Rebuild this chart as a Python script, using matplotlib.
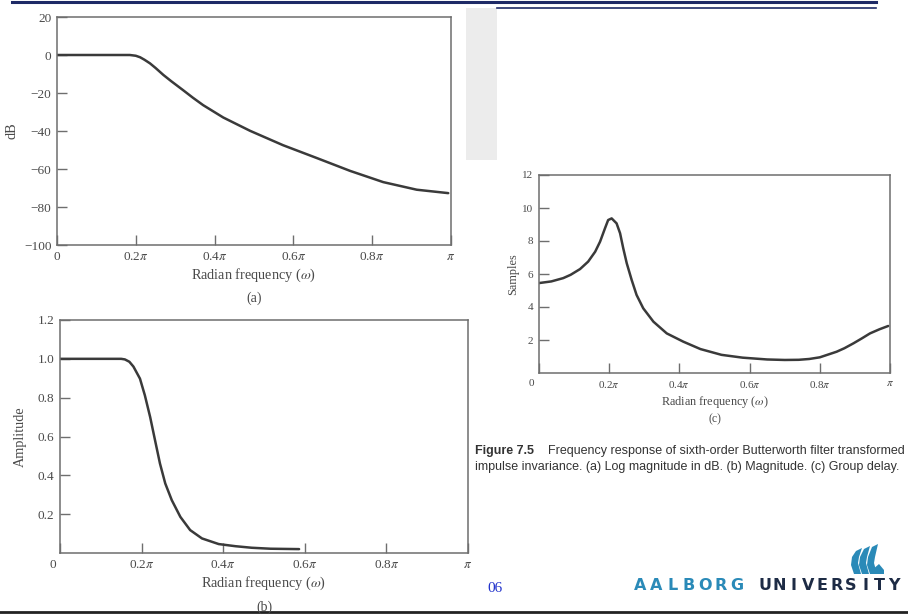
import numpy as np
import matplotlib
matplotlib.use("Agg")
import matplotlib.pyplot as plt
import matplotlib.transforms as mtransforms
from matplotlib.patches import Rectangle, Polygon

plt.rcParams["font.family"] = ["Liberation Serif", "DejaVu Serif"]
plt.rcParams["mathtext.fontset"] = "stix"

# (a) log magnitude in dB, frequency in units of pi
w_a = [0.0, 0.05, 0.10, 0.15, 0.185, 0.20, 0.211, 0.222, 0.236, 0.25, 0.27,
       0.29, 0.32, 0.345, 0.371, 0.422, 0.49, 0.574, 0.659, 0.744, 0.828,
       0.913, 0.993]
db_a = [0.0, 0.0, 0.0, 0.0, 0.0, -0.4, -1.2, -2.5, -4.4, -6.8, -10.5,
        -13.8, -18.5, -22.5, -26.4, -32.9, -39.9, -47.5, -54.2, -61.0, -66.9,
        -70.9, -72.7]

# (b) magnitude
w_b = [0.0, 0.05, 0.118, 0.150, 0.159, 0.170, 0.180, 0.196, 0.208, 0.221,
       0.233, 0.245, 0.258, 0.274, 0.295, 0.319, 0.348, 0.389, 0.43, 0.47,
       0.516, 0.586]
amp_b = [1.0, 1.0, 1.0, 1.0, 0.997, 0.985, 0.96, 0.898, 0.812, 0.700,
         0.580, 0.461, 0.358, 0.272, 0.186, 0.118, 0.075, 0.046, 0.035, 0.027,
         0.022, 0.02]

# (c) group delay in samples
w_c = [0.0, 0.035, 0.069, 0.09, 0.117, 0.140, 0.160, 0.174, 0.188, 0.197,
       0.207, 0.221, 0.231, 0.240, 0.250, 0.264, 0.278, 0.297, 0.326, 0.364,
       0.411, 0.46, 0.52, 0.58, 0.65, 0.70, 0.74, 0.77, 0.80, 0.848, 0.87,
       0.896, 0.92, 0.943, 0.97, 0.995]
gd_c = [5.45, 5.55, 5.75, 5.95, 6.3, 6.75, 7.35, 7.96, 8.77, 9.27,
        9.37, 9.07, 8.47, 7.56, 6.65, 5.64, 4.73, 3.92, 3.11, 2.40,
        1.90, 1.45, 1.1, 0.93, 0.82, 0.79, 0.8, 0.85, 0.95, 1.29, 1.5,
        1.80, 2.1, 2.40, 2.65, 2.85]

x_ticks = [0, 0.2, 0.4, 0.6, 0.8, 1.0]
x_labels = ["0", r"0.2$\pi$", r"0.4$\pi$", r"0.6$\pi$", r"0.8$\pi$", r"$\pi$"]

TXT = "#4a4a4a"
SPINE = "#6e6e6e"
CURVE = "#3a3a3a"

W, H = 908, 615
fig = plt.figure(figsize=(W / 100, H / 100), dpi=100)

# overlay in pixel coords for slide decorations
bg = fig.add_axes([0, 0, 1, 1], zorder=0)
bg.set_xlim(0, W)
bg.set_ylim(H, 0)
bg.axis("off")
bg.add_patch(Rectangle((466, 8), 31, 152, color="#ececec", lw=0))
bg.plot([12, 876], [1.5, 1.5], color="#1e2a66", lw=2.2)
bg.plot([497, 876], [8, 8], color="#1e2a66", lw=1.2)
bg.plot([0, W], [612, 612], color="#222222", lw=2)
bg.text(495, 588, "06", color="#2233cc", fontsize=11, ha="center", va="center")

# logo mark: three wavy stripes
for i, dx in enumerate([0, 8, 16]):
    top = 551 - 2 * i
    pts = [(856 + dx, top), (862 + dx, top - 3), (859 + dx, 557), (858 + dx, 563),
           (861 + dx, 574), (854 + dx, 574), (851 + dx, 565), (852 + dx, 557)]
    bg.add_patch(Polygon(pts, closed=True, color="#2a8ab8", lw=0))
bg.add_patch(Polygon([(872, 570), (879, 564), (884, 570), (884, 574), (872, 574)],
                     closed=True, color="#2a8ab8", lw=0))

for i, ch in enumerate("AALBORG"):
    bg.text(640 + i * 16.2, 586, ch, color="#2a8ab8", fontsize=11.5,
            fontweight="bold", family="DejaVu Sans", ha="center", va="center")
for i, ch in enumerate("UNIVERSITY"):
    bg.text(765 + i * 14.3, 586, ch, color="#1d2b45", fontsize=11.5,
            fontweight="bold", family="DejaVu Sans", ha="center", va="center")

# caption
cap_font = ["Liberation Sans", "DejaVu Sans"]
bg.text(475, 451, "Figure 7.5", fontsize=9, fontweight="bold", color="#333333",
        family=cap_font, va="center")
bg.text(905, 451, "Frequency response of sixth-order Butterworth filter transformed",
        fontsize=9, color="#333333", family=cap_font, va="center", ha="right")
bg.text(475, 467, "impulse invariance. (a) Log magnitude in dB. (b) Magnitude. (c) Group delay.",
        fontsize=9, color="#333333", family=cap_font, va="center")


def panel(rect, w, v, ylim, yticks, ylabels, ylab, tag, fs, ylpad, zero_shift):
    ax = fig.add_axes([rect[0] / W, 1 - rect[3] / H, (rect[2] - rect[0]) / W,
                       (rect[3] - rect[1]) / H], zorder=1)
    ax.plot(w, v, color=CURVE, lw=1.8, solid_capstyle="round")
    ax.set_xlim(0, 1)
    ax.set_ylim(*ylim)
    ax.set_xticks(x_ticks)
    ax.set_xticklabels(x_labels)
    ax.set_yticks(yticks)
    ax.set_yticklabels(ylabels)
    ax.tick_params(direction="in", length=7, width=1, color=SPINE,
                   labelcolor=TXT, labelsize=fs, pad=4)
    for s in ax.spines.values():
        s.set_color(SPINE)
        s.set_linewidth(1.1)
    ax.set_xlabel(r"Radian frequency ($\omega$)", color=TXT, fontsize=fs + 0.8, labelpad=3)
    ax.set_ylabel(ylab, color=TXT, fontsize=fs + 0.8, labelpad=ylpad)
    ax.text(0.5, -0.235, tag, transform=ax.transAxes, ha="center", va="center",
            color=TXT, fontsize=fs + 0.5)
    # the "0" under the y axis sits a little left of the spine
    lab0 = ax.get_xticklabels()[0]
    lab0.set_transform(lab0.get_transform() +
                       mtransforms.ScaledTranslation(zero_shift / 100, 0, fig.dpi_scale_trans))
    return ax


ax_a = panel((57, 17, 451, 245), w_a, db_a, (-100, 20),
             [20, 0, -20, -40, -60, -80, -100],
             ["20", "0", "\u221220", "\u221240", "\u221260", "\u221280", "\u2212100"],
             "dB", "(a)", 9.5, 4, 0)

ax_b = panel((60, 320, 468, 553), w_b, amp_b, (0, 1.2),
             [0.2, 0.4, 0.6, 0.8, 1.0, 1.2],
             ["0.2", "0.4", "0.6", "0.8", "1.0", "1.2"],
             "Amplitude", "(b)", 9.5, 8, -7)

ax_c = panel((539, 175, 890, 373), w_c, gd_c, (0, 12),
             [2, 4, 6, 8, 10, 12],
             ["2", "4", "6", "8", "10", "12"],
             "Samples", "(c)", 8, 2, -8)

fig.savefig("out.png", dpi=100)
